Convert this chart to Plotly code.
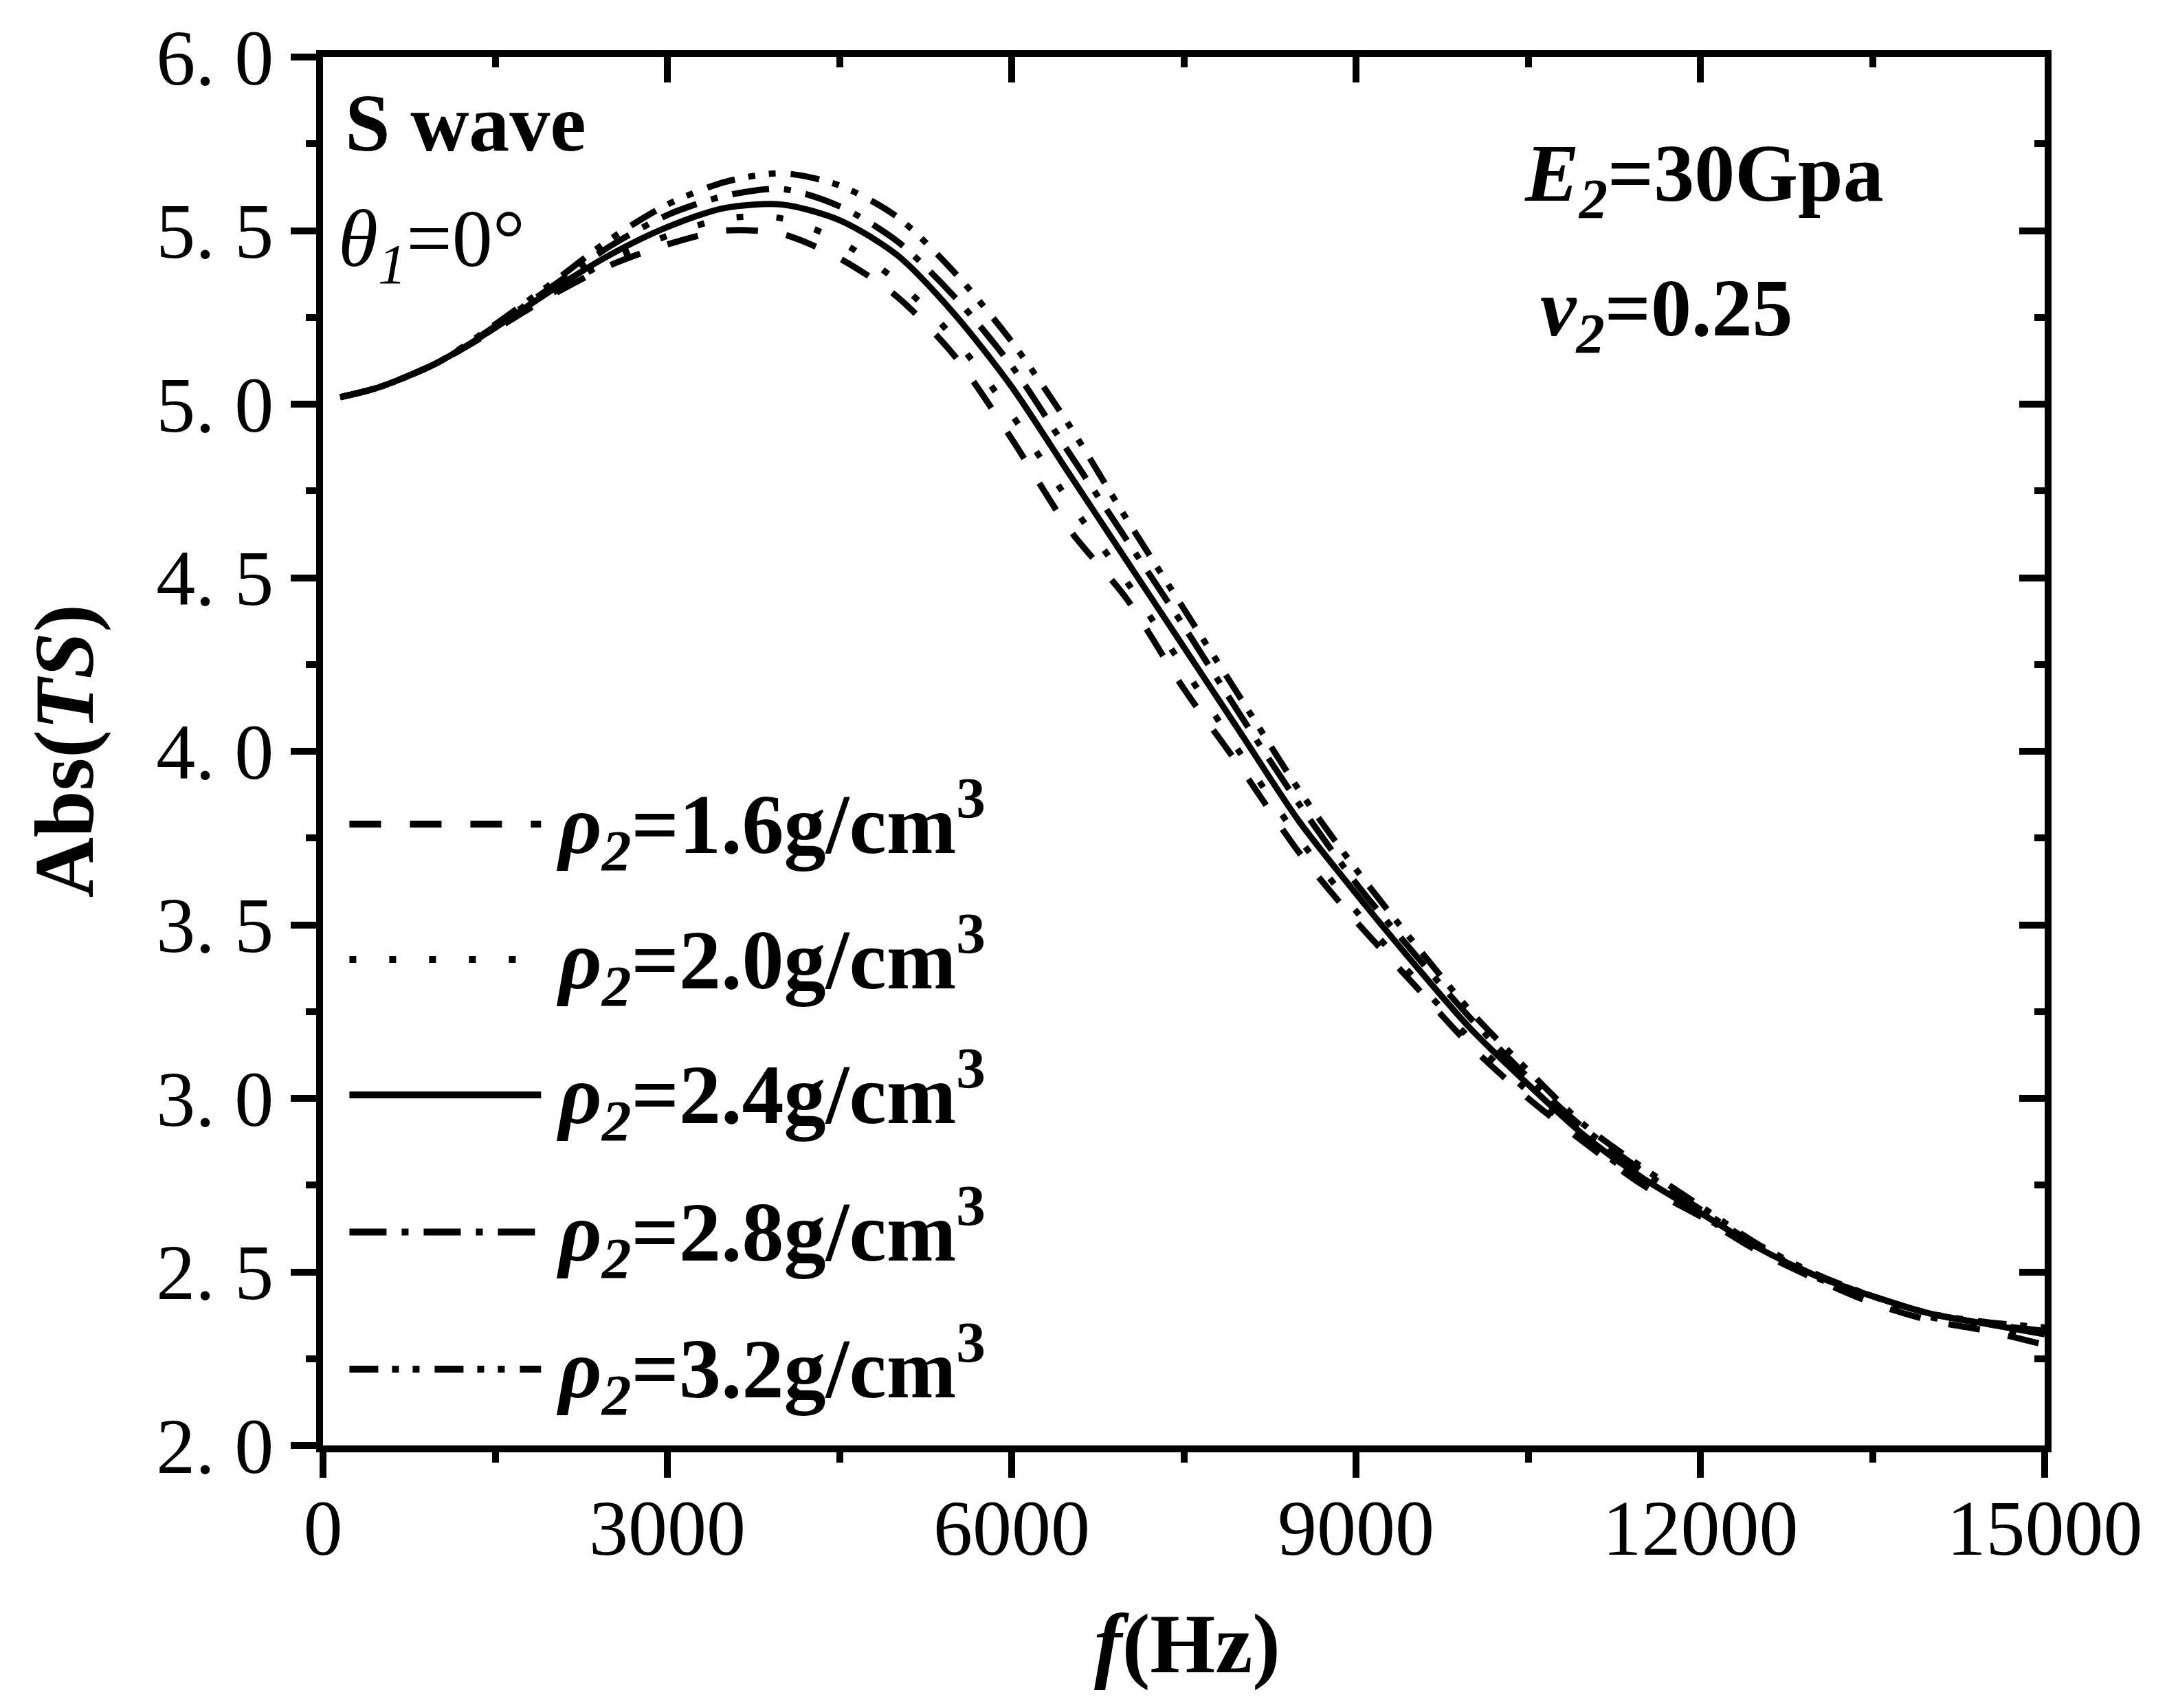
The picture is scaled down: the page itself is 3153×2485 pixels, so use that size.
import plotly.graph_objects as go

# frequency grid (Hz)
freq = [150, 500, 1000, 1500, 2000, 2500, 3000, 3500, 4000, 4500, 5000, 5500,
        6000, 6500, 7000, 7500, 8000, 8500, 9000, 9500, 10000, 10500, 11000,
        11500, 12000, 12500, 13000, 13500, 14000, 14500, 15000]

# Abs(TS), one list per density
ts_16 = [5.02, 5.05, 5.12, 5.215, 5.315, 5.40, 5.46, 5.50, 5.49, 5.42, 5.31, 5.14,
         4.90, 4.64, 4.44, 4.18, 3.95, 3.71, 3.51, 3.33, 3.15, 3.00, 2.87,
         2.75, 2.66, 2.56, 2.48, 2.41, 2.36, 2.33, 2.29]
ts_20 = [5.02, 5.05, 5.12, 5.22, 5.32, 5.415, 5.485, 5.535, 5.535, 5.47, 5.355, 5.19,
         4.97, 4.72, 4.49, 4.24, 3.99, 3.75, 3.54, 3.35, 3.17, 3.02, 2.88,
         2.76, 2.665, 2.565, 2.485, 2.42, 2.37, 2.34, 2.31]
ts_24 = [5.02, 5.05, 5.12, 5.22, 5.33, 5.43, 5.51, 5.565, 5.575, 5.53, 5.43, 5.26,
         5.05, 4.80, 4.55, 4.30, 4.05, 3.80, 3.59, 3.39, 3.20, 3.04, 2.89,
         2.77, 2.67, 2.57, 2.49, 2.43, 2.38, 2.35, 2.32]
ts_28 = [5.02, 5.05, 5.12, 5.225, 5.34, 5.455, 5.545, 5.60, 5.62, 5.57, 5.47, 5.31,
         5.11, 4.86, 4.61, 4.36, 4.10, 3.85, 3.62, 3.42, 3.23, 3.06, 2.91,
         2.79, 2.68, 2.575, 2.49, 2.43, 2.38, 2.35, 2.33]
ts_32 = [5.02, 5.05, 5.12, 5.23, 5.35, 5.475, 5.575, 5.64, 5.665, 5.63, 5.54, 5.38,
         5.18, 4.94, 4.67, 4.41, 4.15, 3.89, 3.66, 3.45, 3.25, 3.08, 2.92,
         2.80, 2.69, 2.58, 2.495, 2.43, 2.38, 2.355, 2.34]

labels = ["1.6", "2.0", "2.4", "2.8", "3.2"]
series = [ts_16, ts_20, ts_24, ts_28, ts_32]
dashes = ["46px,42px", "10px,48px", "solid",
          "54px,22px,10px,22px", "42px,20px,10px,20px,10px,22px"]

y_ticks = [2.0, 2.5, 3.0, 3.5, 4.0, 4.5, 5.0, 5.5, 6.0]
y_ticktext = ["2. 0", "2. 5", "3. 0", "3. 5", "4. 0", "4. 5", "5. 0", "5. 5", "6. 0"]
x_ticks = [0, 3000, 6000, 9000, 12000, 15000]
x_ticktext = ["0", "3000", "6000", "9000", "12000", "15000"]

FONT = "Liberation Serif, Times New Roman, serif"
BIG = 118

fig = go.Figure()

for ys, dash in zip(series, dashes):
    fig.add_trace(go.Scatter(x=freq, y=ys, mode="lines",
                             line=dict(color="black", width=9, dash=dash,
                                       shape="spline", smoothing=0.8),
                             showlegend=False, hoverinfo="skip"))

# helper trace so the top / right axes (inside ticks) get drawn
fig.add_trace(go.Scatter(x=[freq[0]], y=[ts_24[0]], xaxis="x2", yaxis="y2",
                         mode="markers", marker=dict(size=1, opacity=0),
                         showlegend=False, hoverinfo="skip"))

# hand-made legend (long line samples like the original)
leg_y = [3.79, 3.40, 3.01, 2.615, 2.22]
leg_x0, leg_x1, leg_text_x = 230, 1900, 2020
for yy, lab, dash in zip(leg_y, labels, dashes):
    fig.add_shape(type="line", xref="x", yref="y", x0=leg_x0, x1=leg_x1, y0=yy, y1=yy,
                  line=dict(color="black", width=10, dash=dash))
    fig.add_annotation(x=leg_text_x, y=yy, xref="x", yref="y", xanchor="left",
                       yanchor="middle", showarrow=False,
                       text="<b><i>ρ</i><sub><i>2</i></sub>=" + lab + "g/cm<sup>3</sup></b>",
                       font=dict(family=FONT, size=BIG + 4, color="black"))

notes = [
    ("<b>S wave</b>", 0.012, 0.952),
    ("<i>θ</i><sub><i>1</i></sub>=0°", 0.008, 0.865),
    ("<b><i>E</i><sub><i>2</i></sub>=30Gpa</b>", 0.697, 0.912),
    ("<b><i>ν</i><sub><i>2</i></sub>=0.25</b>", 0.706, 0.815),
]
for txt, px, py in notes:
    fig.add_annotation(x=px, y=py, xref="paper", yref="paper", xanchor="left",
                       yanchor="middle", showarrow=False, text=txt,
                       font=dict(family=FONT, size=BIG, color="black"))

# axis titles
fig.add_annotation(x=-0.15, y=0.5, xref="paper", yref="paper", textangle=-90,
                   xanchor="center", yanchor="middle",
                   showarrow=False, text="<b>Abs(<i>TS</i>)</b>",
                   font=dict(family=FONT, size=BIG + 4, color="black"))
fig.add_annotation(x=0.502, y=-0.143, xref="paper", yref="paper",
                   xanchor="center", yanchor="middle",
                   showarrow=False, text="<b><i>f</i>(Hz)</b>",
                   font=dict(family=FONT, size=BIG + 4, color="black"))

axis_common = dict(showgrid=False, zeroline=False, linecolor="black", linewidth=10,
                   tickcolor="black", tickwidth=10)

fig.update_layout(
    width=3153, height=2485,
    plot_bgcolor="white", paper_bgcolor="white",
    margin=dict(l=462, r=186, t=75, b=390),
    font=dict(family=FONT, size=114, color="black"),
    xaxis=dict(range=[0, 15000], tickvals=x_ticks, ticktext=x_ticktext,
               ticks="outside", ticklen=37,
               showline=True, mirror=True, ticklabelstandoff=-25,
               minor=dict(dtick=1500, tick0=0, ticks="outside", ticklen=15,
                          tickwidth=10, tickcolor="black"),
               **axis_common),
    yaxis=dict(range=[2, 6], tickvals=y_ticks, ticktext=y_ticktext, ticks="outside",
               ticklen=37, showline=True, mirror=True, ticklabelstandoff=2,
               minor=dict(dtick=0.25, tick0=2, ticks="outside", ticklen=15,
                          tickwidth=10, tickcolor="black"),
               **axis_common),
    xaxis2=dict(range=[0, 15000], overlaying="x", side="top", tickvals=x_ticks,
                ticks="inside", ticklen=37, showticklabels=False, showline=False,
                minor=dict(dtick=1500, tick0=0, ticks="inside", ticklen=15,
                           tickwidth=10, tickcolor="black"),
                **axis_common),
    yaxis2=dict(range=[2, 6], overlaying="y", side="right", tickvals=y_ticks,
                ticks="inside", ticklen=37, showticklabels=False, showline=False,
                minor=dict(dtick=0.25, tick0=2, ticks="inside", ticklen=15,
                           tickwidth=10, tickcolor="black"),
                **axis_common),
)

fig.write_html("out.html")
